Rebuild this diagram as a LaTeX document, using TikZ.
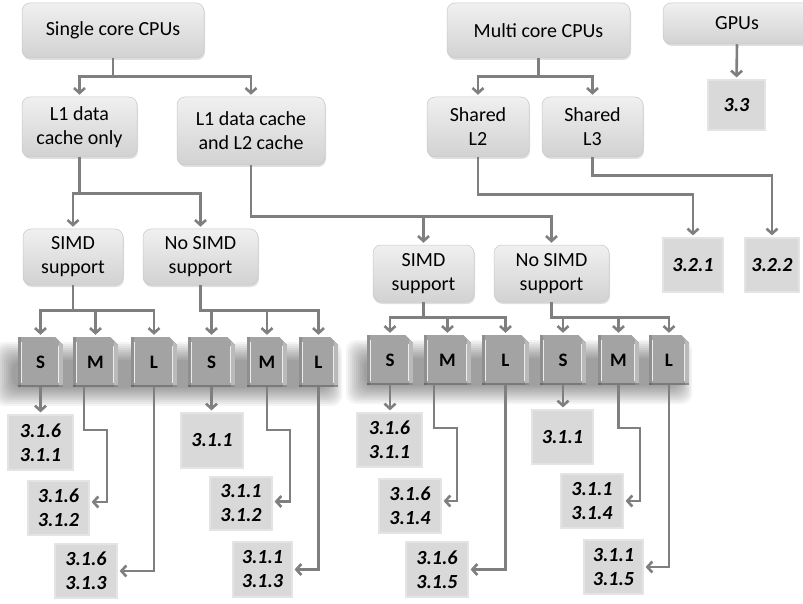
\documentclass[tikz,border=0pt]{standalone}
\usepackage{fontspec}
\setmainfont{Carlito}
\usetikzlibrary{arrows.meta,shadows,calc}
\definecolor{conncol}{HTML}{7F7F7F}
\definecolor{boxtop}{HTML}{F0F0F0}
\definecolor{boxbot}{HTML}{D2D2D2}
\definecolor{boxedge}{HTML}{C8C8C8}
\definecolor{numfill}{HTML}{D9D9D9}
\definecolor{numedge}{HTML}{E4E4E4}
\definecolor{smlfill}{HTML}{A3A3A3}
\definecolor{smledge}{HTML}{8C8C8C}
\begin{document}
\begin{tikzpicture}[x=1pt,y=-1pt,
  rbox/.style={rectangle, rounded corners=8pt, inner sep=0pt, align=center,
    top color=boxtop, bottom color=boxbot, draw=boxedge, line width=0.5pt,
    font=\fontsize{20}{24}\selectfont,
    drop shadow={shadow xshift=1pt, shadow yshift=-2pt, opacity=0.25}},
  nbox/.style={rectangle, inner sep=0pt, align=center, fill=numfill,
    draw=numedge, line width=1.2pt,
    font=\bfseries\itshape\fontsize{20}{24}\selectfont},
  sml/.style={rectangle, inner sep=0pt, minimum height=50pt, fill=smlfill,
    font=\bfseries\fontsize{19}{19}\selectfont,
    path picture={
      \fill[black,opacity=0.12] (path picture bounding box.north west) rectangle ([xshift=3pt]path picture bounding box.south west);
      \fill[white,opacity=0.25] ([xshift=-4pt]path picture bounding box.north east) rectangle (path picture bounding box.south east);
      \fill[black,opacity=0.25] ([yshift=2pt]path picture bounding box.south west) rectangle (path picture bounding box.south east);
      \draw[white,opacity=0.8,line width=1pt] ([xshift=3.5pt,yshift=-5pt]path picture bounding box.north west) -- ([xshift=3.5pt,yshift=4pt]path picture bounding box.south west);
      \draw[white,opacity=0.8,line width=1pt] ([xshift=-4.5pt,yshift=-9pt]path picture bounding box.north east) -- ([xshift=-4.5pt,yshift=4pt]path picture bounding box.south east);
      \fill[white] ([xshift=-8pt]path picture bounding box.north east) -- (path picture bounding box.north east)
        -- ([yshift=-8pt]path picture bounding box.north east) -- cycle;
      \draw[black!35,line width=0.6pt] ([xshift=-8pt]path picture bounding box.north east) -- ([yshift=-8pt]path picture bounding box.north east);
    }},
  conn/.style={draw=conncol, line width=2.6pt, shorten >=2pt,
    -{Straight Barb[length=5pt,width=11pt]}}
]
\useasboundingbox (0,0) rectangle (803,604);
\clip (0,0) rectangle (803,604);
\fill[white] (0,0) rectangle (803,604);

% soft shadow bands behind S/M/L rows
\foreach \i in {0,...,9}{
  \fill[black,opacity=0.045,rounded corners=10pt] (-6+2*\i,342+2*\i) rectangle (342-1.5*\i,406-2*\i);
  \fill[black,opacity=0.045,rounded corners=10pt] (346+2*\i,340+2*\i) rectangle (692-1.5*\i,404-2*\i);
}

% top level boxes
\node[rbox, minimum width=182pt, minimum height=55pt] (single) at (113,30.5) {Single core CPUs};
\node[rbox, minimum width=183pt, minimum height=55pt] (multi) at (538.5,30.5) {Multi core CPUs};
\node[rbox, minimum width=148pt, minimum height=41pt] (gpus) at (737,23.5) {GPUs};

\node[rbox, minimum width=115pt, minimum height=60pt] (l1only) at (79.5,127) {L1 data\\cache only};
\node[rbox, minimum width=148pt, minimum height=68pt] (l1l2) at (251,131) {L1 data cache\\and L2 cache};
\node[rbox, minimum width=102pt, minimum height=60pt] (sh2) at (478,127) {Shared\\L2};
\node[rbox, minimum width=101pt, minimum height=60pt] (sh3) at (592.5,127) {Shared\\L3};

\node[rbox, minimum width=100pt, minimum height=56pt] (simdA) at (73,257) {SIMD\\support};
\node[rbox, minimum width=115pt, minimum height=56pt] (nosimdA) at (200.5,257) {No SIMD\\support};
\node[rbox, minimum width=101pt, minimum height=57pt] (simdB) at (423.5,273.5) {SIMD\\support};
\node[rbox, minimum width=115pt, minimum height=57pt] (nosimdB) at (551.5,273.5) {No SIMD\\support};

% number boxes (top right)
\node[nbox, minimum width=57pt, minimum height=50pt] (n33) at (736.5,105) {3.3};
\node[nbox, minimum width=60pt, minimum height=54pt] (n321) at (693,265) {3.2.1};
\node[nbox, minimum width=54pt, minimum height=54pt] (n322) at (772,265) {3.2.2};

% S M L boxes
\node[sml, minimum width=45pt] (aS) at (40.5,362) {S};
\node[sml, minimum width=45pt] (aM) at (95.5,362) {M};
\node[sml, minimum width=46pt] (aL) at (154,362) {L};
\node[sml, minimum width=47pt] (bS) at (211.5,362) {S};
\node[sml, minimum width=40pt] (bM) at (267,362) {M};
\node[sml, minimum width=39pt] (bL) at (318.5,362) {L};
\node[sml, minimum width=46pt] (cS) at (390,360) {S};
\node[sml, minimum width=47pt] (cM) at (447.5,360) {M};
\node[sml, minimum width=47pt] (cL) at (505.5,360) {L};
\node[sml, minimum width=46pt] (dS) at (563,360) {S};
\node[sml, minimum width=41pt] (dM) at (618.5,360) {M};
\node[sml, minimum width=40pt] (dL) at (669,360) {L};

% bottom number boxes
\node[nbox, minimum width=65pt, minimum height=55pt] (aS1) at (40.5,442.5) {3.1.6\\3.1.1};
\node[nbox, minimum width=61pt, minimum height=54pt] (aM1) at (58.5,508) {3.1.6\\3.1.2};
\node[nbox, minimum width=62pt, minimum height=54pt] (aL1) at (86,571) {3.1.6\\3.1.3};
\node[nbox, minimum width=62pt, minimum height=55pt] (bS1) at (212,440.5) {3.1.1};
\node[nbox, minimum width=62pt, minimum height=53pt] (bM1) at (241,503.5) {3.1.1\\3.1.2};
\node[nbox, minimum width=59pt, minimum height=55pt] (bL1) at (262.5,569.5) {3.1.1\\3.1.3};
\node[nbox, minimum width=65pt, minimum height=54pt] (cS1) at (389.5,440) {3.1.6\\3.1.1};
\node[nbox, minimum width=62pt, minimum height=54pt] (cM1) at (410,506) {3.1.6\\3.1.4};
\node[nbox, minimum width=62pt, minimum height=55pt] (cL1) at (437,569.5) {3.1.6\\3.1.5};
\node[nbox, minimum width=61pt, minimum height=54pt] (dS1) at (562.5,437) {3.1.1};
\node[nbox, minimum width=62pt, minimum height=54pt] (dM1) at (592,501) {3.1.1\\3.1.4};
\node[nbox, minimum width=59pt, minimum height=54pt] (dL1) at (613.5,567) {3.1.1\\3.1.5};

% connectors: top levels
\draw[conn] (single.south) -- ++(0,18) -| (l1only.north);
\draw[conn] (single.south) -- ++(0,18) -| (l1l2.north);
\draw[conn] (multi.south) -- ++(0,18) -| (sh2.north);
\draw[conn] (multi.south) -- ++(0,18) -| (sh3.north);
\draw[conn] (gpus.south) -- (n33.north);
\draw[conn] (sh2.south) -- ++(0,37) -| (n321.north);
\draw[conn] (sh3.south) -- ++(0,18) -| (n322.north);

\draw[conn] (l1only.south) -- ++(0,36) -| (simdA.north);
\draw[conn] (l1only.south) -- ++(0,36) -| (nosimdA.north);
\draw[conn] (l1l2.south) -- ++(0,51) -| (simdB.north);
\draw[conn] (l1l2.south) -- ++(0,51) -| (nosimdB.north);

\foreach \t in {aS,aM,aL}{\draw[conn] (simdA.south) -- ++(0,25) -| (\t.north);}
\foreach \t in {bS,bM,bL}{\draw[conn] (nosimdA.south) -- ++(0,25) -| (\t.north);}
\foreach \t in {cS,cM,cL}{\draw[conn] (simdB.south) -- ++(0,15) -| (\t.north);}
\foreach \t in {dS,dM,dL}{\draw[conn] (nosimdB.south) -- ++(0,15) -| (\t.north);}

% connectors: S/M/L to results
\draw[conn] (aS.south) -- (aS1.north);
\draw[conn] ([xshift=-11.5pt]aM.south) |- (107,430) |- ([yshift=6pt]aM1.east);
\draw[conn] (aL.south) |- (aL1.east);
\draw[conn] (bS.south) -- (bS.south |- bS1.north);
\draw[conn] (bM.south) |- (290,430) |- ([yshift=2pt]bM1.east);
\draw[conn] (bL.south) |- (bL1.east);
\draw[conn] (cS.south) -- (cS.south |- cS1.north);
\draw[conn] ([xshift=-13.5pt]cM.south) |- (457,428) |- ([yshift=5pt]cM1.east);
\draw[conn] (cL.south) |- (cL1.east);
\draw[conn] (dS.south) -- (dS.south |- dS1.north);
\draw[conn] (dM.south) |- (640,428) |- (dM1.east);
\draw[conn] (dL.south) |- (dL1.east);
\end{tikzpicture}
\end{document}
